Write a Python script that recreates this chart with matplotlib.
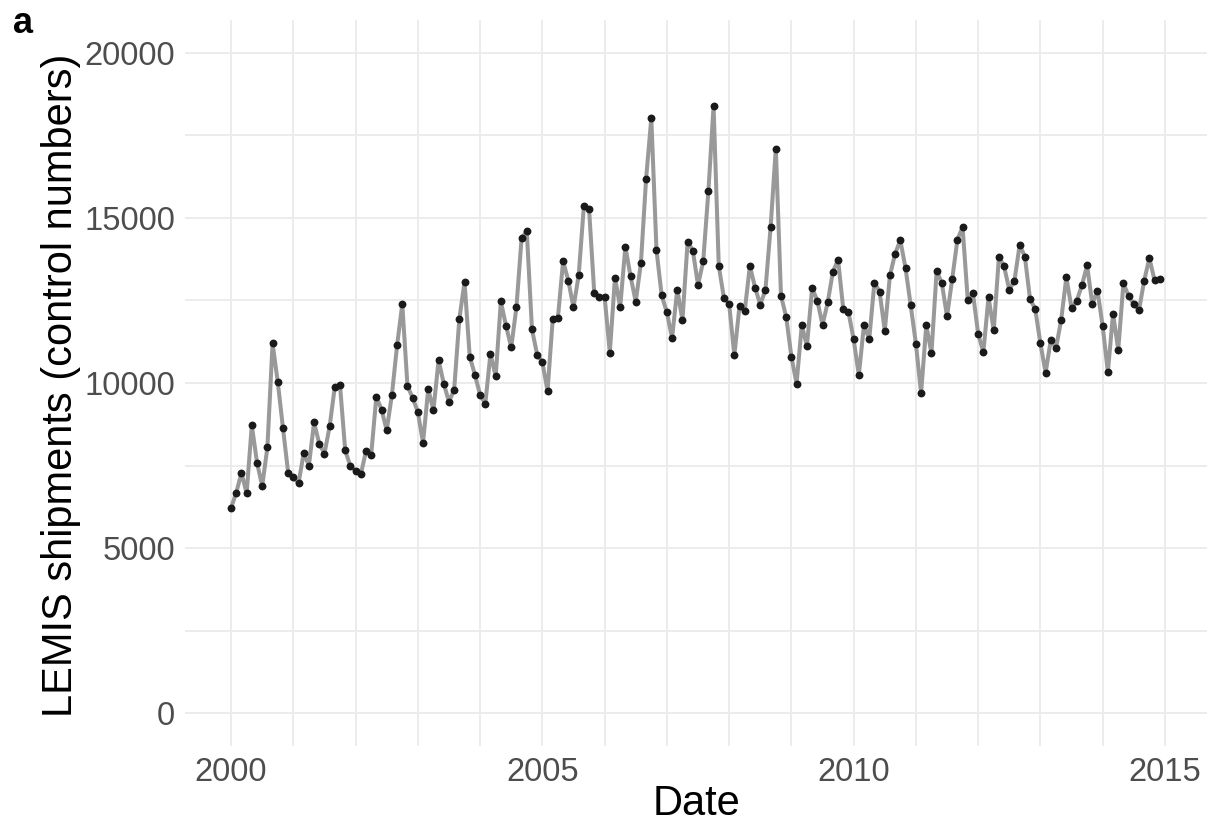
import numpy as np
import matplotlib
matplotlib.use("Agg")
import matplotlib.pyplot as plt

# ---- data (monthly LEMIS shipments, Jan 2000 - Dec 2014) ----
years = list(range(2000, 2015))
months = list(range(1, 13))
shipments = [
    # 2000
    6220, 6680, 7280, 6660, 8720, 7590, 6880, 8050, 11200, 10030, 8640, 7290,
    # 2001
    7140, 6960, 7880, 7500, 8810, 8160, 7860, 8690, 9890, 9930, 7960, 7480,
    # 2002
    7350, 7230, 7930, 7810, 9590, 9190, 8570, 9640, 11140, 12390, 9910, 9550,
    # 2003
    9120, 8190, 9820, 9170, 10690, 9980, 9430, 9800, 11940, 13060, 10800, 10250,
    # 2004
    9640, 9370, 10890, 10200, 12470, 11730, 11080, 12290, 14390, 14590, 11620, 10860,
    # 2005
    10630, 9760, 11940, 11980, 13690, 13100, 12290, 13260, 15350, 15270, 12740, 12610,
    # 2006
    12610, 10920, 13190, 12290, 14130, 13230, 12460, 13640, 16190, 18020, 14020, 12650,
    # 2007
    12140, 11360, 12830, 11900, 14280, 14010, 12970, 13680, 15800, 18380, 13550, 12570,
    # 2008
    12400, 10840, 12330, 12170, 13550, 12890, 12370, 12820, 14730, 17100, 12640, 12000,
    # 2009
    10800, 9980, 11750, 11120, 12880, 12490, 11760, 12440, 13370, 13730, 12240, 12150,
    # 2010
    11320, 10240, 11770, 11320, 13040, 12770, 11580, 13260, 13920, 14320, 13480, 12350,
    # 2011
    11190, 9690, 11750, 10900, 13400, 13020, 12020, 13150, 14340, 14720, 12500, 12710,
    # 2012
    11490, 10930, 12600, 11590, 13820, 13530, 12820, 13100, 14180, 13830, 12540, 12240,
    # 2013
    11200, 10310, 11300, 11050, 11910, 13200, 12260, 12490, 12960, 13560, 12390, 12800,
    # 2014
    11720, 10330, 12100, 11000, 13020, 12630, 12390, 12200, 13100, 13780, 13110, 13140,
]
x_tick_labels = ["2000", "2005", "2010", "2015"]
y_tick_labels = ["0", "5000", "10000", "15000", "20000"]

# decimal-year date for each month
dates = np.array([y + (m - 1) / 12.0 for y in years for m in months])
values = np.array(shipments)

W, H = 1207, 826
fig = plt.figure(figsize=(W / 100, H / 100), dpi=100)
ax_left, ax_right, ax_top, ax_bot = 185, 1211, 19.7, 746.3
ax = fig.add_axes([ax_left / W, 1 - ax_bot / H,
                   (ax_right - ax_left) / W, (ax_bot - ax_top) / H])

grid_col = "#ebebeb"
for yr in range(2000, 2016):
    ax.axvline(yr, color=grid_col, lw=1.3, zorder=0)
for yv in np.arange(0, 20001, 2500):
    ax.axhline(yv, color=grid_col, lw=1.3, zorder=0)

ax.plot(dates, values, color="#999999", lw=2.9, zorder=2, solid_joinstyle="round")
ax.scatter(dates, values, s=32, color="#1a1a1a", zorder=3, linewidths=0)

ax.set_xlim(1999.26, 2015.74)
ax.set_ylim(-1000, 21000)
ax.set_xticks([int(t) for t in x_tick_labels])
ax.set_xticklabels(x_tick_labels)
ax.set_yticks([int(t) for t in y_tick_labels])
ax.set_yticklabels(y_tick_labels)
ax.tick_params(length=0, labelsize=23.5, labelcolor="#4d4d4d")
ax.tick_params(axis="x", pad=8)
ax.tick_params(axis="y", pad=7)
for lab in ax.get_xticklabels() + ax.get_yticklabels():
    lab.set_family("Liberation Sans")
for s in ax.spines.values():
    s.set_visible(False)

ax_w = ax_right - ax_left
ax_h = ax_bot - ax_top
ax.set_xlabel("Date", fontsize=30, family="Liberation Sans", va="baseline")
ax.xaxis.set_label_coords((697 - ax_left) / ax_w, (ax_bot - 815) / ax_h)
ax.set_ylabel("LEMIS shipments (control numbers)", fontsize=30,
              family="Liberation Sans", va="baseline")
ax.yaxis.set_label_coords((72 - ax_left) / ax_w, (ax_bot - 385) / ax_h)

fig.text(13 / W, 1 - 33 / H, "a", fontsize=26, fontweight="bold",
         family="Liberation Sans", va="baseline", ha="left")

fig.savefig("out.png", dpi=100)
